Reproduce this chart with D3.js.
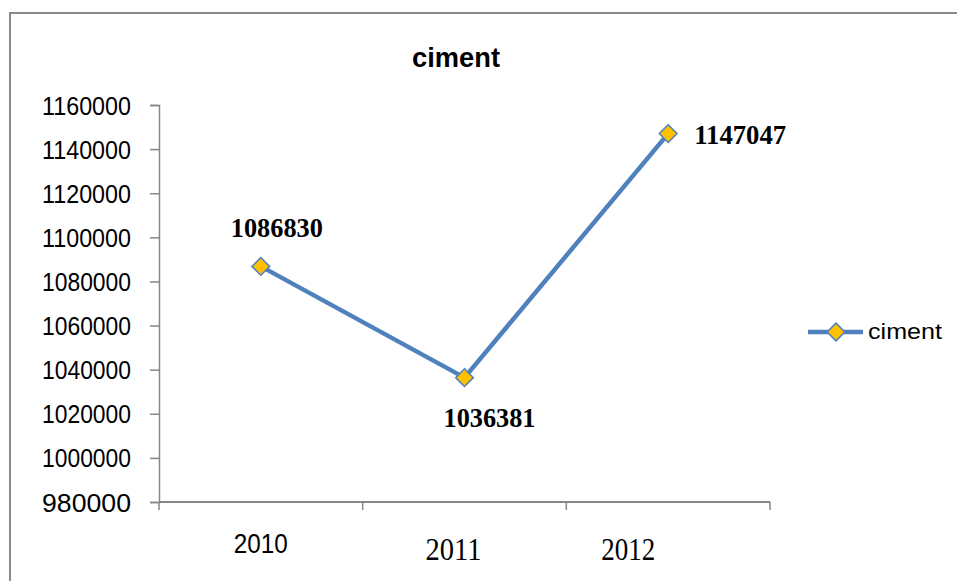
<!DOCTYPE html>
<html>
<head>
<meta charset="utf-8">
<script src="https://cdn.jsdelivr.net/npm/d3@7/dist/d3.min.js"></script>
<style>
  html, body { margin: 0; padding: 0; background: #fff; }
  svg { display: block; }
</style>
</head>
<body>
<svg id="chart" width="957" height="581"></svg>
<script>
// ---- data ----
const categories = ["2010", "2011", "2012"];
const values = [1086830, 1036381, 1147047];
const seriesName = "ciment";
const yTicks = [980000, 1000000, 1020000, 1040000, 1060000, 1080000, 1100000, 1120000, 1140000, 1160000];

// ---- layout / style (not data) ----
const W = 957, H = 581;
const plot = { left: 159, right: 770, top: 105, bottom: 502 };
const blue = "#4F81BD", gold = "#FFC000", axisGray = "#868686";
const sans = "'Liberation Sans', Arial, sans-serif";
const serif = "'Liberation Serif', 'Times New Roman', serif";
const xLabelStyle = [
  { dx: 0, y: 553, font: sans, size: 28, len: 54 },
  { dx: -11, y: 560, font: serif, size: 31, len: 56 },
  { dx: -40, y: 560, font: serif, size: 31, len: 54 }
];
const valueLabelStyle = [
  { dx: 16, dy: -29, anchor: "middle" },
  { dx: 25, dy: 49, anchor: "middle" },
  { dx: 26, dy: 10, anchor: "start" }
];

const svg = d3.select("#chart");

// frame
svg.append("rect")
  .attr("x", 10).attr("y", 13)
  .attr("width", W + 20).attr("height", H + 20)
  .attr("fill", "#fff").attr("stroke", "#8a8a8a").attr("stroke-width", 2);

const x = d3.scaleBand().domain(categories).range([plot.left, plot.right]);
const y = d3.scaleLinear().domain([980000, 1160000]).range([plot.bottom, plot.top]);

// y axis
const yAxis = svg.append("g")
  .attr("transform", `translate(${plot.left},0)`)
  .call(d3.axisLeft(y).tickValues(yTicks).tickSize(9).tickPadding(19).tickFormat(d3.format("d")));
yAxis.select(".domain").attr("stroke", axisGray).attr("stroke-width", 1.5);
yAxis.selectAll(".tick line").attr("stroke", axisGray).attr("stroke-width", 1.5);
yAxis.selectAll(".tick text")
  .attr("fill", "#000")
  .style("font-family", sans)
  .style("font-size", "25px")
  .attr("dy", "0.36em")
  .attr("textLength", 89)
  .attr("lengthAdjust", "spacingAndGlyphs");

// x axis (ticks at category boundaries)
const xAxisG = svg.append("g").attr("transform", `translate(0,${plot.bottom})`);
xAxisG.append("line")
  .attr("x1", plot.left).attr("x2", plot.right)
  .attr("stroke", axisGray).attr("stroke-width", 1.8);
const boundaries = categories.map(c => x(c)).concat([x(categories[categories.length - 1]) + x.bandwidth()]);
xAxisG.selectAll("line.tk").data(boundaries).enter().append("line")
  .attr("class", "tk")
  .attr("x1", d => d).attr("x2", d => d)
  .attr("y1", 0).attr("y2", 8)
  .attr("stroke", axisGray).attr("stroke-width", 1.5);

svg.selectAll("text.xlab").data(categories).enter().append("text")
  .attr("class", "xlab")
  .attr("x", (d, i) => x(d) + x.bandwidth() / 2 + xLabelStyle[i].dx)
  .attr("y", (d, i) => xLabelStyle[i].y)
  .attr("text-anchor", "middle")
  .style("font-family", (d, i) => xLabelStyle[i].font)
  .style("font-size", (d, i) => xLabelStyle[i].size + "px")
  .attr("textLength", (d, i) => xLabelStyle[i].len)
  .attr("lengthAdjust", "spacingAndGlyphs")
  .text(d => d);

// title
svg.append("text")
  .attr("x", 456).attr("y", 67)
  .attr("text-anchor", "middle")
  .style("font-family", sans).style("font-weight", "bold").style("font-size", "27px")
  .attr("textLength", 88).attr("lengthAdjust", "spacingAndGlyphs")
  .text(seriesName);

// line
const pts = categories.map((c, i) => [x(c) + x.bandwidth() / 2, y(values[i])]);
svg.append("path")
  .attr("d", d3.line()(pts))
  .attr("fill", "none").attr("stroke", blue).attr("stroke-width", 4.5)
  .attr("stroke-linejoin", "round");

const diamond = d3.symbol().type(d3.symbolDiamond2).size(200);
svg.selectAll("path.mk").data(pts).enter().append("path")
  .attr("class", "mk")
  .attr("d", diamond)
  .attr("transform", d => `translate(${d[0]},${d[1]})`)
  .attr("fill", gold).attr("stroke", blue).attr("stroke-width", 1.5);

// value labels
svg.selectAll("text.vl").data(values).enter().append("text")
  .attr("class", "vl")
  .attr("x", (d, i) => pts[i][0] + valueLabelStyle[i].dx)
  .attr("y", (d, i) => pts[i][1] + valueLabelStyle[i].dy)
  .attr("text-anchor", (d, i) => valueLabelStyle[i].anchor)
  .style("font-family", serif).style("font-weight", "bold").style("font-size", "28px")
  .attr("textLength", 92).attr("lengthAdjust", "spacingAndGlyphs")
  .text(d => d);

// legend
const lg = svg.append("g").attr("transform", "translate(808,332)");
lg.append("line").attr("x1", 0).attr("x2", 55)
  .attr("stroke", blue).attr("stroke-width", 4.5);
lg.append("path").attr("d", diamond).attr("transform", "translate(28,0)")
  .attr("fill", gold).attr("stroke", blue).attr("stroke-width", 1.5);
lg.append("text").attr("x", 60).attr("y", 7)
  .style("font-family", sans).style("font-size", "22px")
  .attr("textLength", 74).attr("lengthAdjust", "spacingAndGlyphs")
  .text(seriesName);
</script>
</body>
</html>
